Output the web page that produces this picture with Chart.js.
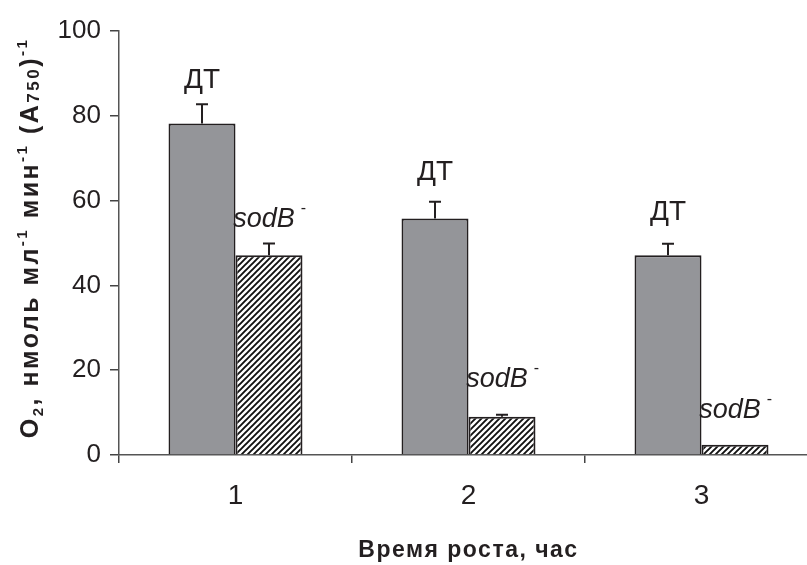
<!DOCTYPE html>
<html>
<head>
<meta charset="utf-8">
<script src="https://cdn.jsdelivr.net/npm/chart.js@4/dist/chart.umd.min.js"></script>
<style>
  html, body { margin: 0; padding: 0; background: #fff; overflow: hidden; }
  #wrap { width: 830px; height: 565px; }
</style>
</head>
<body>
<div id="wrap"><canvas id="c" width="830" height="565"></canvas></div>
<script>
// ── Data ──────────────────────────────────────────────────────────────────
const categories  = ['1', '2', '3']
const wildType    = [78.2, 55.8, 47.1]
const wildTypeErr = [4.5, 3.9, 2.7]
const mutant      = [47.1, 9.0, 2.4]
const mutantErr   = [2.8, 0.5, 0]
const yTicks      = [0, 20, 40, 60, 80, 100]

const FONT = '"Liberation Sans", Arial, sans-serif'
const INK = '#231f20'

// hatched fill for the sodB- bars
function hatch() {
  const p = document.createElement('canvas')
  p.width = 6; p.height = 6
  const g = p.getContext('2d')
  g.fillStyle = '#fff'; g.fillRect(0, 0, 6, 6)
  g.strokeStyle = '#111'; g.lineWidth = 1.9
  g.beginPath()
  g.moveTo(-1, 7); g.lineTo(7, -1)
  g.moveTo(-4, 4); g.lineTo(4, -4)
  g.moveTo(2, 10); g.lineTo(10, 2)
  g.stroke()
  return g.createPattern(p, 'repeat')
}

// ── Error bars + bar labels ──────────────────────────────────────────────
const errorBars = {
  id: 'errorBars',
  afterDatasetsDraw(chart) {
    const { ctx, scales: { y } } = chart
    const errs = [wildTypeErr, mutantErr]
    ctx.save()
    ctx.strokeStyle = INK; ctx.lineWidth = 2
    chart.data.datasets.forEach((ds, i) => {
      chart.getDatasetMeta(i).data.forEach((el, j) => {
        const e = errs[i][j]
        if (!e) return
        const top = y.getPixelForValue(ds.data[j] + e)
        ctx.beginPath()
        ctx.moveTo(el.x, el.y); ctx.lineTo(el.x, top)
        ctx.moveTo(el.x - 6, top); ctx.lineTo(el.x + 6, top)
        ctx.stroke()
      })
    })
    ctx.restore()
  }
}

const barLabels = {
  id: 'barLabels',
  afterDatasetsDraw(chart, args, opts) {
    const { ctx, scales: { y } } = chart
    const errs = [wildTypeErr, mutantErr]
    ctx.save()
    ctx.fillStyle = INK
    ctx.textBaseline = 'alphabetic'
    chart.data.datasets.forEach((ds, i) => {
      chart.getDatasetMeta(i).data.forEach((el, j) => {
        const top = y.getPixelForValue(ds.data[j] + errs[i][j])
        const by = top - opts.lift[i][j]
        if (i === 0) {
          ctx.font = '28px ' + FONT
          ctx.textAlign = 'center'
          ctx.fillText('ДТ', el.x, by - 4)
        } else {
          ctx.font = 'italic 27px ' + FONT
          ctx.textAlign = 'left'
          const w = ctx.measureText('sodB').width
          const x0 = el.x - (w + 10) / 2
          ctx.fillText('sodB', x0, by)
          ctx.font = '16px ' + FONT
          ctx.fillText('-', x0 + w + 6, by - 14)
        }
      })
    })
    ctx.restore()
  }
}

// ── Axis titles (rich text with sub/superscripts) ────────────────────────
const axisTitles = {
  id: 'axisTitles',
  afterDraw(chart) {
    const { ctx, chartArea } = chart
    ctx.save()
    ctx.fillStyle = INK
    ctx.textBaseline = 'alphabetic'

    // x title
    ctx.font = 'bold 23px ' + FONT
    ctx.letterSpacing = '1.5px'
    ctx.textAlign = 'center'
    ctx.fillText('Время роста, час', (chartArea.left + chartArea.right) / 2, 557)

    // y title
    const parts = [
      ['O', 'n'], ['2', 'sub'], [', нмоль мл', 'n'], ['-1', 'sup'],
      [' мин', 'n'], ['-1', 'sup'], [' (A', 'n'], ['750', 'sub2'], [')', 'n'], ['-1', 'sup']
    ]
    const fontFor = k => k === 'n' ? 'bold 25px ' + FONT : (k === 'sub2' ? 'bold 17px ' + FONT : 'bold 15px ' + FONT)
    const dy = { n: 0, sub: 5, sub2: 1, sup: -11 }
    ctx.letterSpacing = '2.5px'
    ctx.textAlign = 'left'
    let total = 0
    parts.forEach(([t, k]) => { ctx.font = fontFor(k); total += ctx.measureText(t).width })
    ctx.translate(38, 238)
    ctx.rotate(-Math.PI / 2)
    let x = -total / 2
    parts.forEach(([t, k]) => {
      ctx.font = fontFor(k)
      ctx.fillText(t, x, dy[k])
      x += ctx.measureText(t).width
    })
    ctx.restore()
  }
}

// ── Chart ────────────────────────────────────────────────────────────────
const ctx = document.getElementById('c').getContext('2d')
new Chart(ctx, {
  type: 'bar',
  data: {
    labels: categories,
    datasets: [
      { label: 'ДТ', data: wildType, backgroundColor: '#949599', borderColor: INK, borderWidth: 2 },
      { label: 'sodB-', data: mutant, backgroundColor: hatch(), borderColor: INK, borderWidth: 2 }
    ]
  },
  options: {
    responsive: false,
    animation: false,
    layout: { padding: { top: 31, right: 12, left: 0, bottom: 0 } },
    datasets: { bar: { barPercentage: 1, categoryPercentage: 0.575 } },
    plugins: {
      legend: { display: false },
      tooltip: { enabled: false },
      barLabels: { lift: [[12, 18, 20], [16, 28, 27]] }
    },
    scales: {
      x: {
        afterFit: s => { s.height = 110 },
        grid: { drawOnChartArea: false, tickLength: 8, color: '#444', lineWidth: 1.5 },
        border: { color: '#555', width: 1.5 },
        ticks: { color: INK, font: { family: FONT, size: 28 }, padding: 16 }
      },
      y: {
        min: 0, max: 100,
        afterFit: s => { s.width = 119 },
        afterBuildTicks: s => { s.ticks = yTicks.map(v => ({ value: v })) },
        grid: { drawOnChartArea: false, tickLength: 9, color: '#444', lineWidth: 1.5 },
        border: { color: '#555', width: 1.5 },
        ticks: { color: INK, font: { family: FONT, size: 26 }, padding: 9 }
      }
    }
  },
  plugins: [errorBars, barLabels, axisTitles]
})
</script>
</body>
</html>
